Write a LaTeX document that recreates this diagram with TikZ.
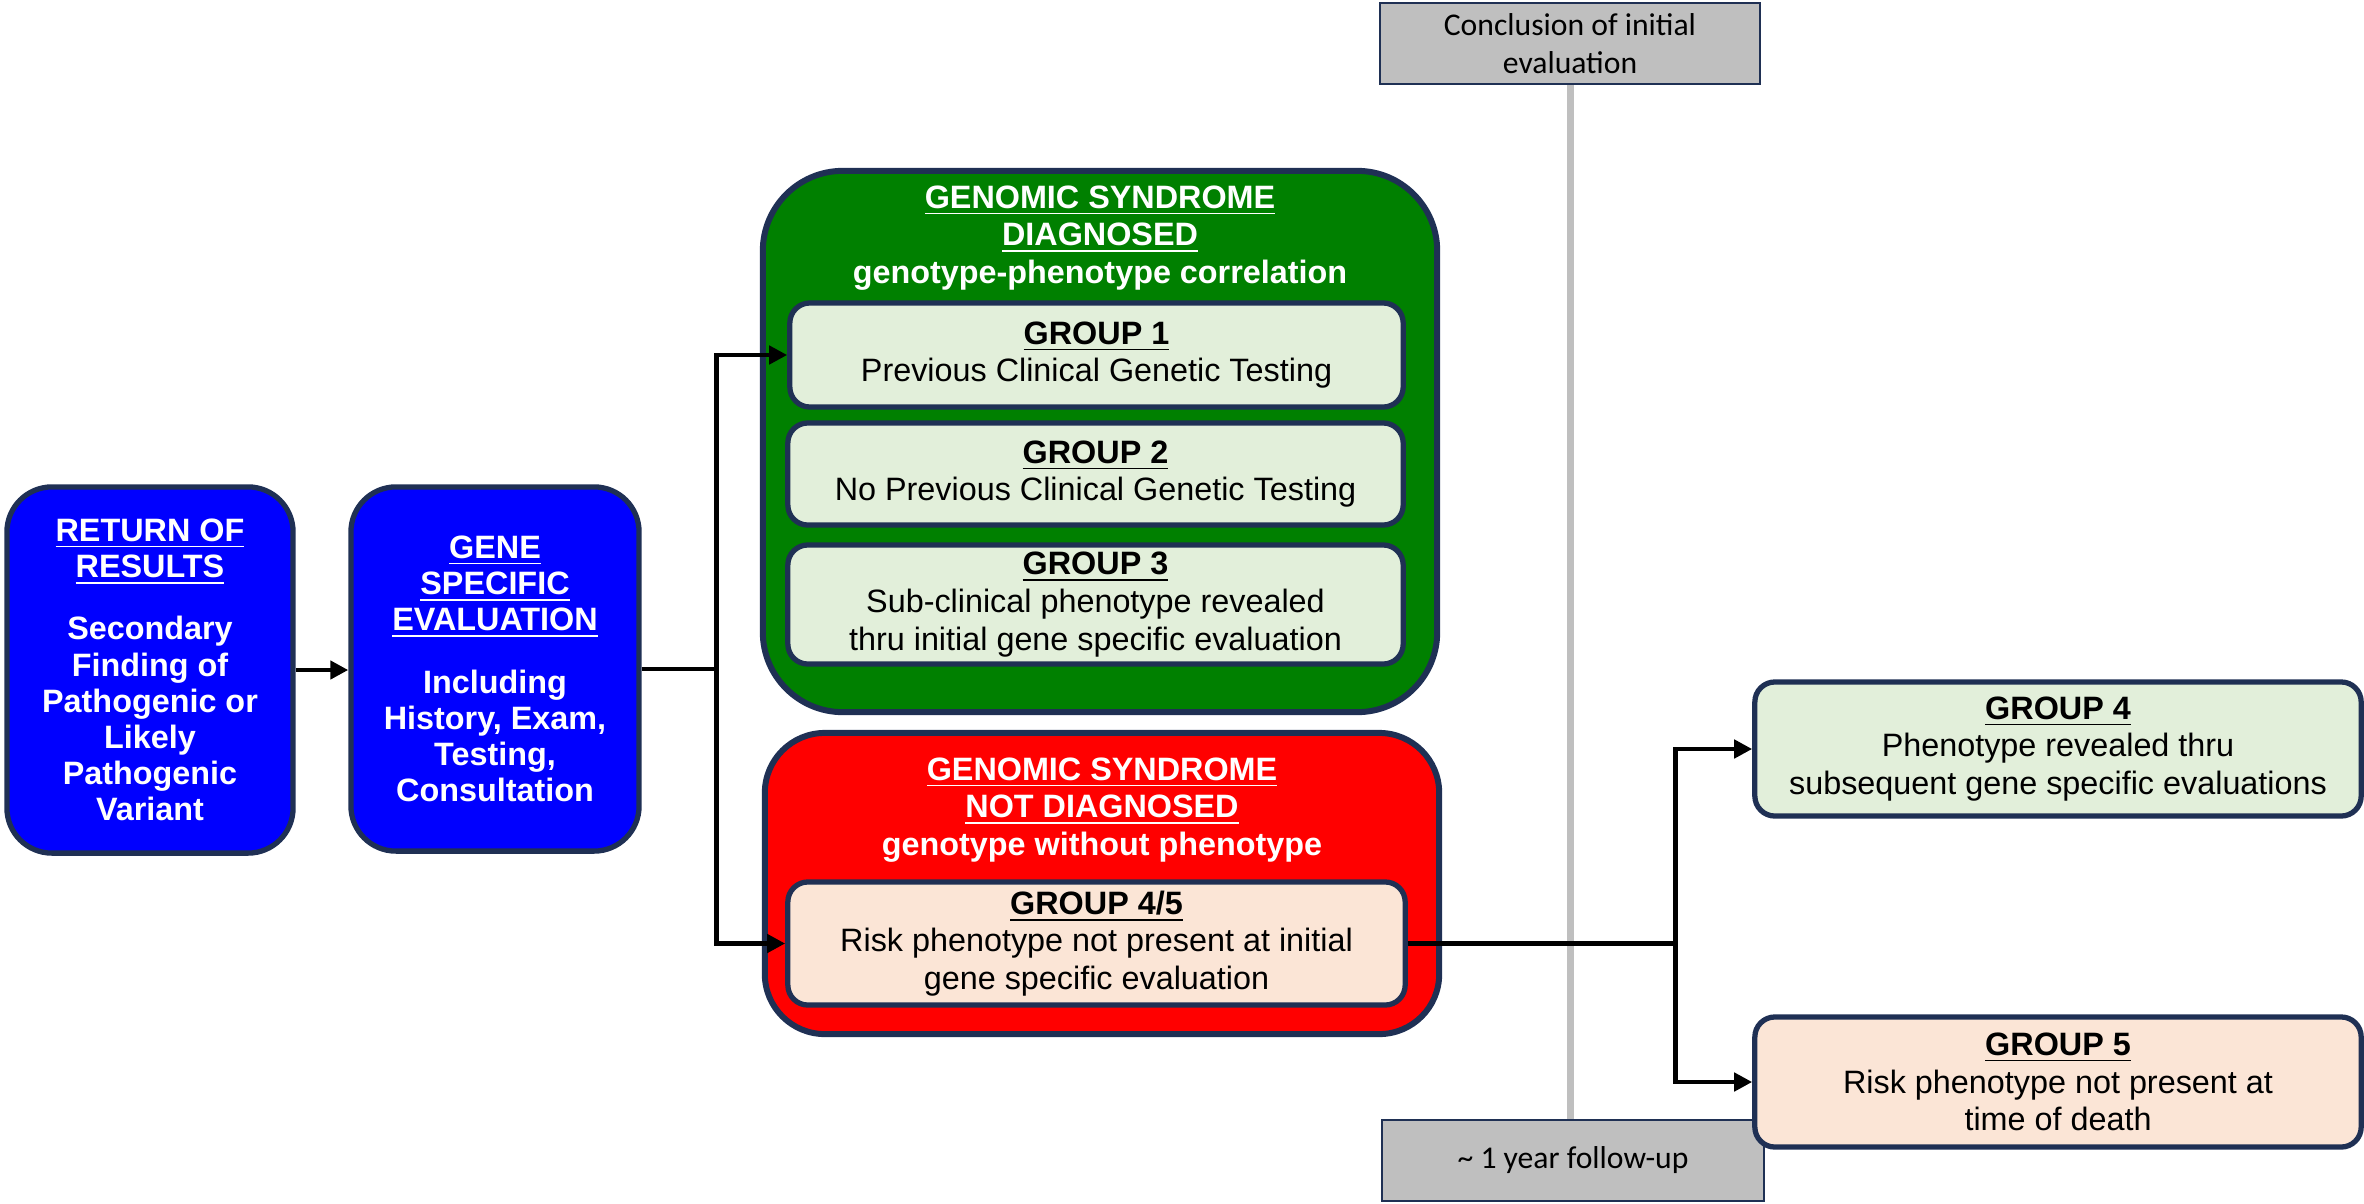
\documentclass[tikz,border=0pt]{standalone}
\usepackage{fontspec}
\setmainfont{Liberation Sans}
\newfontfamily\calfont{Carlito}
\usetikzlibrary{arrows.meta}

\definecolor{navy}{RGB}{31,48,84}
\definecolor{boxblue}{RGB}{0,0,255}
\definecolor{boxgreen}{RGB}{0,128,0}
\definecolor{boxred}{RGB}{255,0,0}
\definecolor{palegreen}{RGB}{226,239,218}
\definecolor{palepeach}{RGB}{251,229,214}
\definecolor{midgray}{RGB}{191,191,191}

\begin{document}
\begin{tikzpicture}[x=0.01cm, y=-0.01cm,
  every node/.style={align=center, inner sep=0pt,
    font=\fontsize{9.2}{10.7}\selectfont},
  stage/.style={draw=navy, line width=1.5pt, fill=boxblue, text=white,
    rounded corners=0.45cm, font=\bfseries\fontsize{9.2}{10.3}\selectfont},
  holder/.style={draw=navy, line width=1.7pt},
  holdertitle/.style={text=white, font=\bfseries\fontsize{9.2}{10.7}\selectfont},
  grp/.style={draw=navy, line width=1.5pt, rounded corners=0.2cm},
  phase/.style={draw=navy, line width=0.6pt, fill=midgray,
    font=\calfont\fontsize{9}{10.8}\selectfont},
  link/.style={line width=1.4pt, -{Triangle[length=0.18cm,width=0.18cm]}},
  timeline/.style={line width=2pt, draw=midgray}
]
\useasboundingbox (0,0) rectangle (2364,1203);

% time markers
\node[phase, minimum width=3.80cm, minimum height=0.81cm] (concl) at (1570,43.5)
  {Conclusion of initial\\evaluation};
\node[phase, minimum width=3.82cm, minimum height=0.81cm] (follow) at (1573,1160.5)
  {\textasciitilde\ 1 year follow-up};
\draw[timeline] (concl.south) -- (concl.south |- follow.north);

% entry stages
\node[stage, minimum width=2.86cm, minimum height=3.66cm] (ror) at (150,670)
  {\underline{RETURN OF}\\\underline{RESULTS}\\[0.26cm]Secondary\\Finding of\\Pathogenic or\\Likely\\Pathogenic\\Variant};
\node[stage, minimum width=2.88cm, minimum height=3.64cm] (eval) at (495,669)
  {\underline{GENE}\\\underline{SPECIFIC}\\\underline{EVALUATION}\\[0.26cm]Including\\History, Exam,\\Testing,\\Consultation};

% diagnosed branch
\node[holder, fill=boxgreen, rounded corners=0.8cm,
  minimum width=6.74cm, minimum height=5.41cm] (dx) at (1100,441.5) {};
\node[holdertitle] (dxtitle) at (1100,238)
  {\underline{GENOMIC SYNDROME}\\\underline{DIAGNOSED}\\genotype-phenotype correlation};
\node[grp, fill=palegreen, minimum width=6.13cm, minimum height=1.04cm] (g1) at (1096.5,355)
  {\textbf{\underline{GROUP 1}}\\Previous Clinical Genetic Testing};
\node[grp, fill=palegreen, minimum width=6.15cm, minimum height=1.02cm] (g2) at (1095.5,474)
  {\textbf{\underline{GROUP 2}}\\No Previous Clinical Genetic Testing};
\node[grp, fill=palegreen, minimum width=6.15cm, minimum height=1.19cm] (g3) at (1095.5,604.5)
  {\textbf{\underline{GROUP 3}}\\Sub-clinical phenotype revealed\\thru initial gene specific evaluation};

% not diagnosed branch
\node[holder, fill=boxred, rounded corners=0.6cm,
  minimum width=6.74cm, minimum height=3.01cm] (ndx) at (1102,883.5) {};
\node[holdertitle] (ndxtitle) at (1102,810)
  {\underline{GENOMIC SYNDROME}\\\underline{NOT DIAGNOSED}\\genotype without phenotype};
\node[grp, fill=palepeach, minimum width=6.17cm, minimum height=1.23cm] (g45) at (1096.5,943.5)
  {\textbf{\underline{GROUP 4/5}}\\Risk phenotype not present at initial\\gene specific evaluation};

% follow-up outcomes
\node[grp, fill=palegreen, minimum width=6.06cm, minimum height=1.34cm] (g4) at (2058,749)
  {\textbf{\underline{GROUP 4}}\\Phenotype revealed thru\\subsequent gene specific evaluations};
\node[grp, fill=palepeach, minimum width=6.06cm, minimum height=1.30cm] (g5) at (2058,1082)
  {\textbf{\underline{GROUP 5}}\\Risk phenotype not present at\\time of death};

% connectors
\draw[link] (ror.east) -- (ror.east -| eval.west);
\path (eval.east) ++(75,0) coordinate (split1);
\draw[link] (eval.east) -- (split1) |- (g1.west);
\draw[link] (split1) |- (g45.west);
\path (g45.east) ++(268,0) coordinate (split2);
\draw[link] (g45.east) -- (split2) |- (g4.west);
\draw[link] (split2) |- (g5.west);
\end{tikzpicture}
\end{document}
